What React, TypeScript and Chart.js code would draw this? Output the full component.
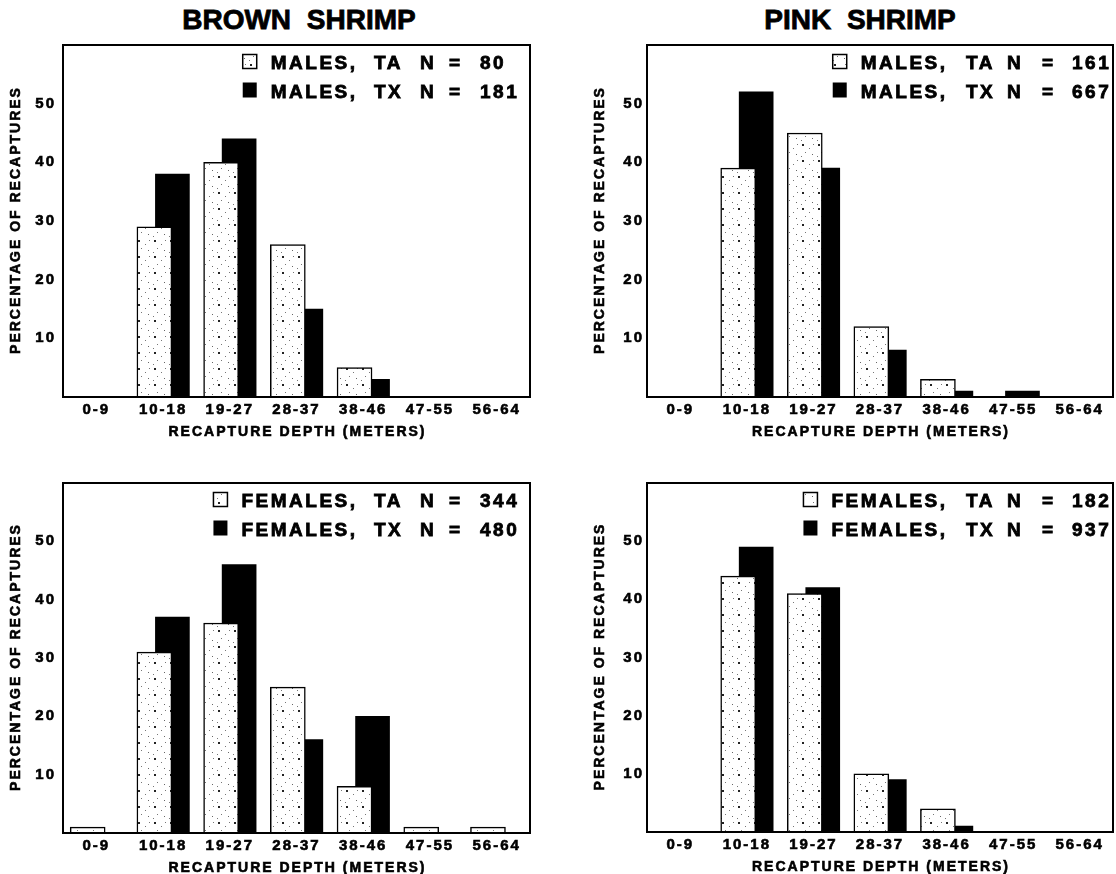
import React, { useEffect, useRef } from 'react';
import { Chart, registerables } from 'chart.js';

Chart.register(...registerables);

// ---------- data ----------
const depthCategories = ['0-9', '10-18', '19-27', '28-37', '38-46', '47-55', '56-64'];
const yTickValues = [10, 20, 30, 40, 50];
const speciesTitles = ['BROWN SHRIMP', 'PINK SHRIMP'];
const sexLabels = ['MALES,', 'FEMALES,'];
const groupCodes = ['TA', 'TX'];
const xAxisTitle = 'RECAPTURE DEPTH (METERS)';
const yAxisTitle = 'PERCENTAGE OF RECAPTURES';

const brownMalesTA = [0, 29, 40, 26, 5, 0, 0];
const brownMalesTX = [0, 38, 44, 15, 3, 0, 0];
const brownMalesN = [80, 181];

const pinkMalesTA = [0, 39, 45, 12, 3, 0, 0];
const pinkMalesTX = [0, 52, 39, 8, 1, 1, 0];
const pinkMalesN = [161, 667];

const brownFemalesTA = [1, 31, 36, 25, 8, 1, 1];
const brownFemalesTX = [0, 37, 46, 16, 20, 0, 0];
const brownFemalesN = [344, 480];

const pinkFemalesTA = [0, 44, 41, 10, 4, 0, 0];
const pinkFemalesTX = [0, 49, 42, 9, 1, 0, 0];
const pinkFemalesN = [182, 937];

// ---------- layout / style ----------
const FONT = "'Liberation Sans', Arial, Helvetica, sans-serif";
const SHIFT_TA = -0.13;
const SHIFT_TX = 0.14;
const Y_AXIS_W = 63;
const TOP_PAD = 24;
const X_AXIS_H = 46;
const RIGHT_PAD = 3;

const brownCols = { labelEnd: -175, code: -156, n: -110, eq: -81, num: -50 };
const pinkCols = { labelEnd: -168, code: -147, n: -106, eq: -71, num: -41 };

type Plot = { l: number; t: number; r: number; b: number };

function makePattern(ctx: CanvasRenderingContext2D): CanvasPattern | string {
  const c = document.createElement('canvas');
  c.width = 16;
  c.height = 16;
  const g = c.getContext('2d');
  if (!g) return '#fff';
  g.fillStyle = '#fff';
  g.fillRect(0, 0, 16, 16);
  g.fillStyle = '#777';
  for (let k = 0; k < 4; k++) {
    g.fillRect(1 + k * 4, 15 - k * 4, 1, 1);
  }
  g.fillStyle = '#222';
  g.fillRect(10, 11, 2, 2);
  g.fillStyle = '#666';
  g.fillRect(4, 5, 1, 1);
  const p = ctx.createPattern(c, 'repeat');
  return p || '#fff';
}

const spacingPlugin = {
  id: 'spacing',
  beforeDraw(chart: any) {
    chart.ctx.letterSpacing = '2px';
  },
};

const framePlugin = {
  id: 'frame',
  afterDatasetsDraw(chart: any) {
    const { ctx, chartArea } = chart;
    ctx.save();
    ctx.lineWidth = 2;
    ctx.strokeStyle = '#000';
    ctx.strokeRect(chartArea.left, chartArea.top, chartArea.right - chartArea.left, chartArea.bottom - chartArea.top);
    ctx.restore();
  },
};

const axisTitlePlugin = {
  id: 'axisTitles',
  afterDraw(chart: any) {
    const { ctx, chartArea } = chart;
    ctx.save();
    ctx.font = `bold 14px ${FONT}`;
    ctx.letterSpacing = '2px';
    ctx.fillStyle = '#000';
    ctx.strokeStyle = '#000';
    ctx.lineWidth = 0.6;
    ctx.textAlign = 'center';
    ctx.textBaseline = 'middle';
    const cx = (chartArea.left + chartArea.right) / 2 + 1;
    const xy = chartArea.bottom + 35;
    ctx.fillText(xAxisTitle, cx, xy);
    ctx.strokeText(xAxisTitle, cx, xy);
    ctx.translate(chartArea.left - 47, (chartArea.top + chartArea.bottom) / 2);
    ctx.rotate(-Math.PI / 2);
    ctx.fillText(yAxisTitle, 1, 0);
    ctx.strokeText(yAxisTitle, 1, 0);
    ctx.restore();
  },
};

function makeLegendPlugin(sex: string, ns: number[], cols: any, pattern: any) {
  return {
    id: 'shrimpLegend',
    afterDraw(chart: any) {
      const { ctx, chartArea } = chart;
      const R = chartArea.right;
      ctx.save();
      ctx.font = `bold 19px ${FONT}`;
      ctx.letterSpacing = '2.5px';
      ctx.fillStyle = '#000';
      ctx.strokeStyle = '#000';
      ctx.lineWidth = 0.8;
      ctx.textBaseline = 'alphabetic';
      ctx.textAlign = 'left';
      const put = (t: string, x: number, y: number) => {
        ctx.fillText(t, x, y);
        ctx.strokeText(t, x, y);
      };
      groupCodes.forEach((code, i) => {
        const y = chartArea.top + 23.5 + i * 29;
        const w = ctx.measureText(sex).width - 2.5;
        const start = R + cols.labelEnd - w;
        put(sex, start, y);
        put(code, R + cols.code, y);
        put('N', R + cols.n, y);
        put('=', R + cols.eq, y);
        put(String(ns[i]), R + cols.num, y);
        const sx = start - 28;
        if (i === 0) {
          ctx.fillStyle = pattern;
          ctx.fillRect(sx, y - 14, 14, 14);
          ctx.lineWidth = 1.5;
          ctx.strokeRect(sx, y - 14, 14, 14);
          ctx.lineWidth = 0.8;
          ctx.fillStyle = '#000';
        } else {
          ctx.fillRect(sx, y - 15, 14, 15);
        }
      });
      ctx.restore();
    },
  };
}

type PanelProps = {
  ta: number[];
  tx: number[];
  sex: string;
  ns: number[];
  plot: Plot;
  tickPad: number;
  cols: any;
};

function Panel({ ta, tx, sex, ns, plot, tickPad, cols }: PanelProps) {
  const ref = useRef<HTMLCanvasElement>(null);
  const left = plot.l - Y_AXIS_W;
  const top = plot.t - TOP_PAD;
  const width = plot.r - left + RIGHT_PAD;
  const height = plot.b - plot.t + TOP_PAD + X_AXIS_H;

  useEffect(() => {
    const canvas = ref.current;
    if (!canvas) return;
    const ctx = canvas.getContext('2d');
    if (!ctx) return;
    const pattern = makePattern(ctx);
    const tickFont = { family: FONT, size: 15, weight: 'bold' };
    const chart = new Chart(canvas, {
      type: 'bar',
      data: {
        datasets: [
          {
            label: groupCodes[0],
            data: ta.map((v, i) => ({ x: i + SHIFT_TA, y: v })),
            backgroundColor: pattern as any,
            borderColor: '#000',
            borderWidth: 1.5,
            barThickness: 35,
            grouped: false,
          } as any,
          {
            label: groupCodes[1],
            data: tx.map((v, i) => ({ x: i + SHIFT_TX, y: v })),
            backgroundColor: '#000',
            borderWidth: 0,
            barThickness: 34,
            grouped: false,
          } as any,
        ],
      },
      options: {
        animation: false,
        responsive: false,
        maintainAspectRatio: false,
        devicePixelRatio: 1,
        layout: { padding: { top: TOP_PAD, right: RIGHT_PAD, left: 0, bottom: 0 } },
        plugins: { legend: { display: false }, tooltip: { enabled: false }, title: { display: false } },
        scales: {
          x: {
            type: 'linear',
            min: -0.5,
            max: 6.5,
            offset: false,
            grid: { display: false, drawTicks: false },
            border: { display: false },
            afterBuildTicks: (s: any) => {
              s.ticks = depthCategories.map((_, i) => ({ value: i }));
            },
            afterFit: (s: any) => {
              s.height = X_AXIS_H;
            },
            ticks: {
              autoSkip: false,
              maxRotation: 0,
              minRotation: 0,
              padding: 4,
              color: '#000',
              textStrokeColor: '#000',
              textStrokeWidth: 0.6,
              font: tickFont,
              callback: (v: any) => depthCategories[Math.round(Number(v))] ?? '',
            },
            title: { display: false },
          } as any,
          y: {
            min: 0,
            max: 60,
            grid: { display: false, drawTicks: false },
            border: { display: false },
            afterBuildTicks: (s: any) => {
              s.ticks = yTickValues.map((v) => ({ value: v }));
            },
            afterFit: (s: any) => {
              s.width = Y_AXIS_W;
            },
            ticks: {
              padding: tickPad,
              color: '#000',
              textStrokeColor: '#000',
              textStrokeWidth: 0.6,
              font: tickFont,
            },
            title: { display: false },
          } as any,
        },
      },
      plugins: [spacingPlugin, framePlugin, axisTitlePlugin, makeLegendPlugin(sex, ns, cols, pattern)],
    });
    return () => chart.destroy();
  }, []);

  return (
    <canvas
      ref={ref}
      width={width}
      height={height}
      style={{ position: 'absolute', left, top, width, height }}
    />
  );
}

function Title({ text, cx }: { text: string; cx: number }) {
  return (
    <div
      style={{
        position: 'absolute',
        left: cx - 200,
        width: 400,
        top: 6,
        textAlign: 'center',
        font: `bold 28px ${FONT}`,
        lineHeight: '28px',
        wordSpacing: '8px',
        color: '#000',
        whiteSpace: 'nowrap',
        WebkitTextStroke: '0.8px #000',
      }}
    >
      {text}
    </div>
  );
}

export default function App() {
  return (
    <div
      style={{
        position: 'fixed',
        left: 0,
        top: 0,
        width: 1116,
        height: 874,
        overflow: 'hidden',
        background: '#fff',
      }}
    >
      <Title text={speciesTitles[0]} cx={299} />
      <Title text={speciesTitles[1]} cx={860} />
      <Panel ta={brownMalesTA} tx={brownMalesTX} sex={sexLabels[0]} ns={brownMalesN}
        plot={{ l: 63, t: 45, r: 530, b: 397 }} tickPad={7} cols={brownCols} />
      <Panel ta={pinkMalesTA} tx={pinkMalesTX} sex={sexLabels[0]} ns={pinkMalesN}
        plot={{ l: 647, t: 45, r: 1113, b: 397 }} tickPad={3} cols={pinkCols} />
      <Panel ta={brownFemalesTA} tx={brownFemalesTX} sex={sexLabels[1]} ns={brownFemalesN}
        plot={{ l: 63, t: 483, r: 530, b: 833 }} tickPad={7} cols={brownCols} />
      <Panel ta={pinkFemalesTA} tx={pinkFemalesTX} sex={sexLabels[1]} ns={pinkFemalesN}
        plot={{ l: 647, t: 483, r: 1113, b: 832 }} tickPad={3} cols={pinkCols} />
    </div>
  );
}
